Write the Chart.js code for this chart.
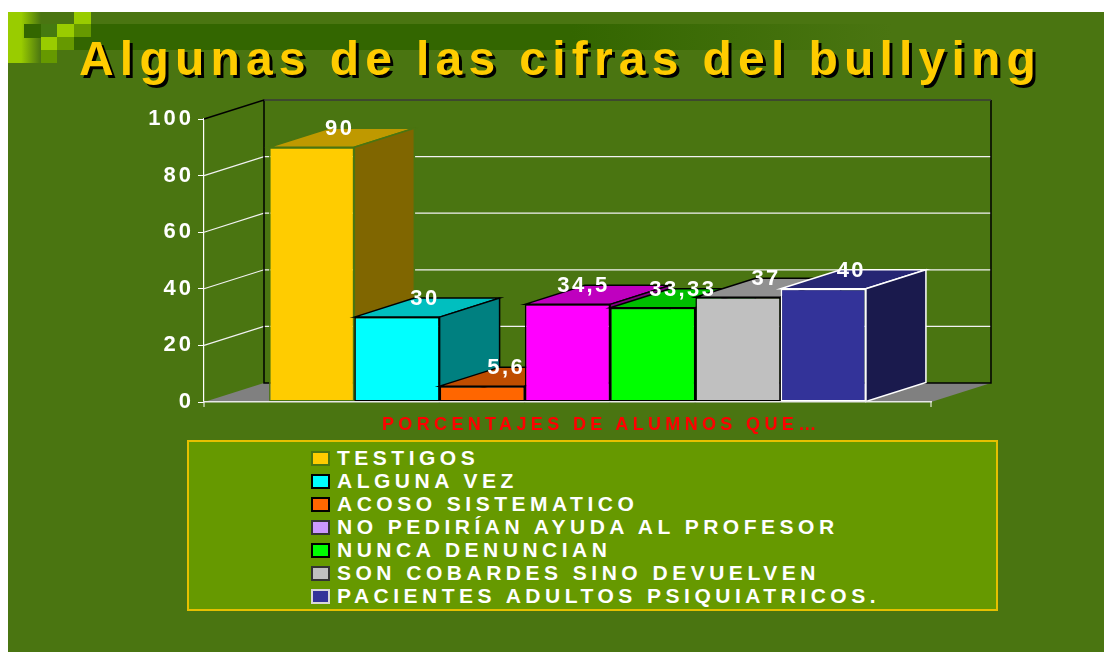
<!DOCTYPE html>
<html>
<head>
<meta charset="utf-8">
<style>
html, body { margin: 0; padding: 0; background: #fff; width: 1104px; height: 652px; overflow: hidden; }
body { font-family: "Liberation Sans", Arial, sans-serif; font-weight: bold; }
#slide { position: absolute; left: 8px; top: 12px; width: 1096px; height: 640px; background: #4a7511; }
#fade { position: absolute; left: 8px; top: 12px; width: 33px; height: 51px; background: linear-gradient(90deg, #99cc00 40%, #4a7511); }
#band { position: absolute; left: 91px; top: 24px; width: 800px; height: 26px; background: linear-gradient(90deg, #336600 60%, #4a7511); }
.sq { position: absolute; }
#chart { position: absolute; left: 0; top: 0; }
#title { position: absolute; left: 79px; top: 31px; font-size: 48px; line-height: 56px; letter-spacing: 6.2px; word-spacing: -1.6px; color: #ffcc00; text-shadow: 3px 3px 0 #000; white-space: nowrap; }
#xtitle { position: absolute; left: 382px; top: 414px; font-size: 18px; line-height: 20px; letter-spacing: 4.35px; color: #ff0000; white-space: nowrap; }
#legend { position: absolute; left: 187px; top: 440px; width: 807px; height: 167px; background: #669900; border: 2px solid #e6c000; }
.row { position: absolute; left: 122px; height: 23px; line-height: 23px; font-size: 21px; letter-spacing: 4.5px; color: #fff; white-space: nowrap; }
.row i { display: inline-block; box-sizing: border-box; width: 19px; height: 15px; border: 2px solid #000; margin-right: 7px; vertical-align: -1px; }
</style>
</head>
<body>
<div id="slide"></div>
<div id="fade"></div>
<div id="band"></div>
<canvas id="chart" width="1104" height="652"></canvas>
<div id="title">Algunas de las cifras del bullying</div>
<div id="xtitle">PORCENTAJES DE ALUMNOS QUE…</div>
<div id="legend"></div>
<script src="https://cdn.jsdelivr.net/npm/chart.js@4/dist/chart.umd.min.js"></script>
<script>
const series = [
    "TESTIGOS",
    "ALGUNA VEZ",
    "ACOSO SISTEMATICO",
    "NO PEDIRÍAN AYUDA AL PROFESOR",
    "NUNCA DENUNCIAN",
    "SON COBARDES SINO DEVUELVEN",
    "PACIENTES ADULTOS PSIQUIATRICOS.",
];
const values = [90, 30, 5.6, 34.5, 33.33, 37, 40];

const barColors = ["#ffcc00", "#00ffff", "#ff6600", "#ff00ff", "#00ff00", "#c0c0c0", "#333399"];
const topColors = ["#bf9900", "#00bfbf", "#bf4d00", "#bf00bf", "#00bf00", "#909090", "#262673"];
const sideColors = ["#806600", "#008080", "#803300", "#800080", "#008000", "#606060", "#1a1a4d"];
const edgeColors = ["#4a7511", "#000000", "#000000", "#000000", "#000000", "#000000", "#ffffff"];
const swatchColors = ["#ffcc00", "#00ffff", "#ff6600", "#cc99ff", "#00ff00", "#c0c0c0", "#333399"];
const swatchEdges = ["#4a7511", "#000000", "#000000", "#333333", "#000000", "#333333", "#d8d8d8"];
const labelNudge = [0, 0, -4, -12, 2, 0, 0];

// depth of the fake 3d box
const DX = 60;
const DY = -19;

// pixel squares in the slide corner
const squares = [
    [24, 24, 17, 14, "#336600"],
    [41, 24, 16, 13, "#457a10"],
    [57, 24, 17, 13, "#99cc00"],
    [74, 12, 17, 12, "#99cc00"],
    [74, 24, 17, 13, "#669900"],
    [41, 37, 16, 13, "#99cc00"],
    [57, 37, 17, 13, "#669900"],
    [74, 37, 17, 13, "#336600"],
    [41, 50, 16, 13, "#669900"],
];
squares.forEach(s => {
    let d = document.createElement('div');
    d.className = 'sq';
    d.style.cssText = `left:${s[0]}px;top:${s[1]}px;width:${s[2]}px;height:${s[3]}px;background:${s[4]}`;
    document.body.insertBefore(d, document.getElementById('chart'));
});

series.forEach((name, i) => {
    let row = document.createElement('div');
    row.className = 'row';
    row.style.top = (4 + i * 23) + 'px';
    row.innerHTML = `<i style="background:${swatchColors[i]};border-color:${swatchEdges[i]}"></i>${name}`;
    document.getElementById('legend').appendChild(row);
});

function poly(ctx, pts, fill, stroke, lw) {
    ctx.beginPath();
    pts.forEach((p, i) => i ? ctx.lineTo(p[0], p[1]) : ctx.moveTo(p[0], p[1]));
    ctx.closePath();
    if (fill) {
        ctx.fillStyle = fill;
        ctx.fill();
    }
    if (stroke) {
        ctx.strokeStyle = stroke;
        ctx.lineWidth = lw;
        ctx.stroke();
    }
}

// walls and floor behind the bars, side and top of each box, value labels
const box3d = {
    id: 'box3d',
    beforeDraw(chart) {
        chart.ctx.letterSpacing = '3px';
    },
    beforeDatasetsDraw(chart) {
        let ctx = chart.ctx;
        let a = chart.chartArea;
        let y = chart.scales.y;
        ctx.save();
        poly(ctx, [[a.left, a.bottom], [a.left + DX, a.bottom + DY], [a.right + DX, a.bottom + DY], [a.right, a.bottom]], "#808080");
        ctx.lineWidth = 1.2;
        ctx.strokeStyle = "#f2f2f2";
        y.ticks.forEach(t => {
            if (t.value === 0 || t.value === y.max) return;
            let py = y.getPixelForValue(t.value);
            ctx.beginPath();
            ctx.moveTo(a.left, py);
            ctx.lineTo(a.left + DX, py + DY);
            ctx.lineTo(a.right + DX, py + DY);
            ctx.stroke();
        });
        ctx.strokeStyle = "#000";
        ctx.lineWidth = 1.5;
        ctx.beginPath();
        ctx.moveTo(a.left, a.top);
        ctx.lineTo(a.left + DX, a.top + DY);
        ctx.lineTo(a.left + DX, a.bottom + DY);
        ctx.lineTo(a.right + DX, a.bottom + DY);
        ctx.lineTo(a.right + DX, a.top + DY);
        ctx.stroke();
        ctx.strokeStyle = "#3a3a3a";
        ctx.beginPath();
        ctx.moveTo(a.left + DX, a.top + DY);
        ctx.lineTo(a.right + DX, a.top + DY);
        ctx.stroke();

        // boxes go left to right so each one covers the side of the one before
        values.forEach((v, i) => {
            let meta = chart.getDatasetMeta(i);
            let b = meta.data[0];
            let l = b.x - b.width / 2;
            let r = b.x + b.width / 2;
            poly(ctx, [[l, b.y], [l + DX, b.y + DY], [r + DX, b.y + DY], [r, b.y]], topColors[i], edgeColors[i], 1.5);
            poly(ctx, [[r, b.y], [r + DX, b.y + DY], [r + DX, b.base + DY], [r, b.base]], sideColors[i], edgeColors[i], 1.5);
            meta.controller.draw();
        });
        ctx.restore();
    },
    beforeDatasetDraw() {
        return false;
    },
    afterDatasetsDraw(chart) {
        let ctx = chart.ctx;
        let a = chart.chartArea;
        ctx.save();
        // closing tick of the x axis
        ctx.strokeStyle = "#fff";
        ctx.lineWidth = 1;
        [a.left, a.right].forEach(x => {
            ctx.beginPath();
            ctx.moveTo(x, a.bottom);
            ctx.lineTo(x, a.bottom + 5);
            ctx.stroke();
        });
        ctx.fillStyle = "#fff";
        ctx.font = 'bold 22px "Liberation Sans"';
        ctx.letterSpacing = '2.4px';
        ctx.textAlign = 'center';
        ctx.textBaseline = 'middle';
        values.forEach((v, i) => {
            let b = chart.getDatasetMeta(i).data[0];
            ctx.fillText(String(v).replace('.', ','), b.x + 28 + labelNudge[i], b.y - 18);
        });
        ctx.restore();
    },
};

new Chart(document.getElementById('chart'), {
    type: 'bar',
    data: {
        labels: [""],
        datasets: series.map((name, i) => ({
            label: name,
            data: [values[i]],
            backgroundColor: barColors[i],
            borderColor: edgeColors[i],
            borderWidth: 1.5,
            borderSkipped: false,
        })),
    },
    options: {
        responsive: false,
        animation: false,
        categoryPercentage: 0.821,
        barPercentage: 1,
        layout: { padding: { left: 144, right: 173, top: 119, bottom: 250 } },
        plugins: {
            legend: { display: false },
            tooltip: { enabled: false },
        },
        scales: {
            x: {
                afterFit(scale) {
                    scale.height = 0;
                },
                grid: { display: false },
                border: { color: "#e8e8e8", width: 1.5, z: 1 },
                ticks: { display: false },
            },
            y: {
                min: 0,
                max: 100,
                afterFit(scale) {
                    scale.width = 60;
                },
                grid: { drawOnChartArea: false, color: "#fff", tickLength: 6 },
                border: { color: "#fff", width: 1.2 },
                ticks: {
                    stepSize: 20,
                    color: "#fff",
                    padding: 4,
                    font: { family: '"Liberation Sans"', size: 22, weight: 'bold' },
                },
            },
        },
    },
    plugins: [box3d],
});
</script>
</body>
</html>
